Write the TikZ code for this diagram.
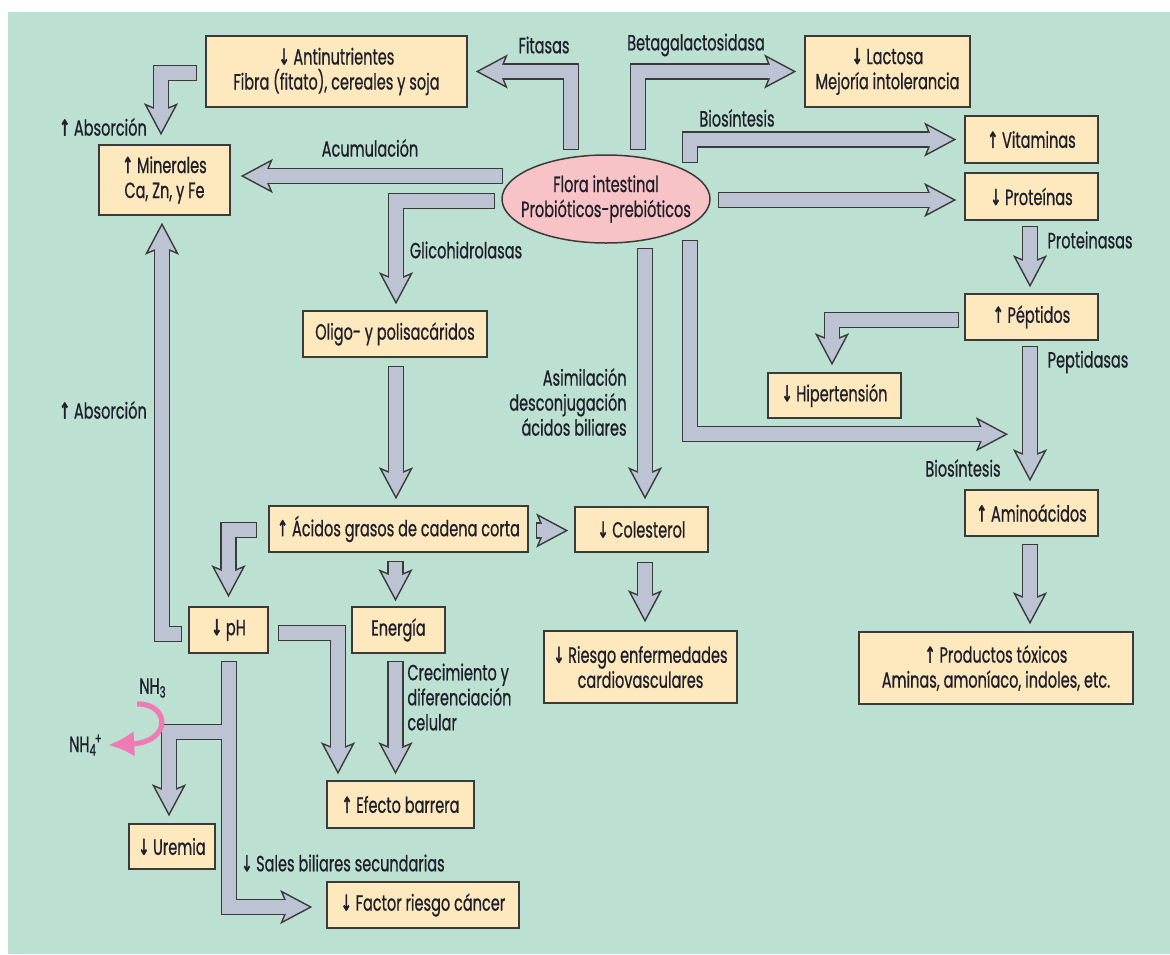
\documentclass[tikz,border=0pt]{standalone}
\usepackage{fontspec}
\setmainfont{Poppins}[FakeStretch=0.66, FakeBold=0.7]
\newfontfamily\arrowfont{DejaVu Sans}[FakeStretch=0.6, FakeBold=2]
\usetikzlibrary{positioning, calc, shapes.geometric, arrows.meta}

\definecolor{mint}{HTML}{BCE1D3}
\definecolor{boxfill}{HTML}{FEE9BF}
\definecolor{shaft}{HTML}{BCC4D3}
\definecolor{edge}{HTML}{3A3A3A}
\definecolor{florapink}{HTML}{F8C3C6}
\definecolor{amonio}{HTML}{F07AB4}
\definecolor{ink}{HTML}{1F1F2A}

\newcommand{\subir}{{\arrowfont ↑}}
\newcommand{\bajar}{{\arrowfont ↓}}

\tikzset{
  box/.style n args={2}{draw=edge, fill=boxfill, line width=0.75pt, text=ink, align=center,
    minimum width=#1*0.5pt, minimum height=#2*0.5pt, inner sep=1pt},
  lbl/.style={text=ink, inner sep=0pt, align=center},
  tipline/.style={draw=edge, line width=0.7pt, -{Stealth[length=16pt, width=17pt, inset=3.5pt, fill=shaft]}},
  shaftout/.style={draw=edge, line width=8.2pt, shorten >=14pt},
  shaftin/.style={draw=shaft, line width=6.8pt, shorten <=0.7pt},
}
\newcommand{\fatarrow}[1]{%
  \draw[tipline] #1;
  \draw[shaftout] #1;
  \draw[shaftin, shorten >=11.5pt] #1;
}

\begin{document}
\begin{tikzpicture}[x=0.5pt, y=-0.5pt, every node/.append style={font=\fontsize{11}{12.5}\selectfont}]
\useasboundingbox (0,0) rectangle (1170,954);
\fill[white] (0,0) rectangle (1170,954);
\fill[mint] (8,12) rectangle (1170,954);

% boxes
\node[box={261}{71}] (anti) at (336.5,71.5) {\bajar\,Antinutrientes\\Fibra (fitato), cereales y soja};
\node[box={131}{70}] (mine) at (164.5,180) {\subir\,Minerales\\Ca, Zn, y Fe};
\node[box={165}{71}] (lact) at (887.5,71.5) {\bajar\,Lactosa\\Mejoría intolerancia};
\node[box={133}{47}] (vita) at (1031.5,139.5) {\subir\,Vitaminas};
\node[box={133}{47}] (prot) at (1031.5,196.5) {\bajar\,Proteínas};
\node[draw=edge, fill=florapink, ellipse, line width=0.75pt, minimum width=104pt, minimum height=44pt,
  align=center, text=ink, inner xsep=-20pt, inner ysep=-8pt] (flora) at (606,199) {Flora intestinal\\Probióticos-prebióticos};
\node[box={184}{46}] (oligo) at (395,334) {Oligo- y polisacáridos};
\node[box={259}{46}] (acid) at (398.5,529) {\subir\ Ácidos grasos de cadena corta};
\node[box={133}{45}] (cole) at (641.5,529.5) {\bajar\,Colesterol};
\node[box={79}{46}] (ph) at (228.5,630) {\bajar\,pH};
\node[box={93}{46}] (ener) at (398.5,630) {Energía};
\node[box={147}{47}] (efec) at (400.5,804.5) {\subir\,Efecto barrera};
\node[box={86}{45}] (urem) at (172,846.5) {\bajar\,Uremia};
\node[box={192}{46}] (canc) at (423,905) {\bajar\ Factor riesgo cáncer};
\node[box={193}{72}] (ries) at (640.5,667) {\bajar\,Riesgo enfermedades\\cardiovasculares};
\node[box={133}{46}] (pept) at (1031.5,317) {\subir\,Péptidos};
\node[box={133}{45}] (hipe) at (834.5,395.5) {\bajar\,Hipertensión};
\node[box={133}{46}] (amin) at (1031.5,513) {\subir\,Aminoácidos};
\node[box={274}{72}] (toxi) at (996,668) {\subir\ Productos tóxicos\\Aminas, amoníaco, indoles, etc.};

% labels
\node[lbl] (fitL) at (544,45) {Fitasas};
\node[lbl] (betL) at (696,45) {Betagalactosidasa};
\node[lbl] (bioL) at (737,118) {Biosíntesis};
\node[lbl] (acuL) at (370,148) {Acumulación};
\node[lbl] (absL) at (103,127) {\subir\,Absorción};
\node[lbl] (absM) at (103,410) {\subir\,Absorción};
\node[lbl] (gliL) at (466,250) {Glicohidrolasas};
\node[lbl, align=right, anchor=east] (asiL) at (627,402) {Asimilación\\desconjugación\\ácidos biliares};
\node[lbl, align=left, anchor=west] (creL) at (407,697) {Crecimiento y\\diferenciación\\celular};
\node[lbl, anchor=west] (salL) at (241,863) {\bajar\,Sales biliares secundarias};
\node[lbl] (proL) at (1090,240) {Proteinasas};
\node[lbl] (pepL) at (1088,362) {Peptidasas};
\node[lbl] (bi2L) at (963,468) {Biosíntesis};
\node[lbl] (nh3) at (153,688) {NH\textsubscript{3}};
\node[lbl] (nh4) at (86,745) {NH\textsubscript{4}\kern-1pt\textsuperscript{+}};

% start points
\coordinate (fitS) at (571,150);
\coordinate (betS) at (638,150);
\coordinate (vitS) at (690,163);
\coordinate (acuS) at (503,176);
\coordinate (gliS) at (495,201);
\coordinate (colS) at (645,248);
\coordinate (bioS) at (690,240);
\coordinate (phB) at (229,732);

% big arrows
\fatarrow{(fitS) |- ($(anti.east)+(8,0)$)}
\fatarrow{(betS) |- ($(lact.west)+(-8,0)$)}
\fatarrow{(vitS) |- ($(vita.west)+(-8,0)$)}
\fatarrow{($(flora.east)+(7,1)$) -- ($(flora.east -| prot.west)+(-8,1)$)}
\fatarrow{(acuS) -- ($(acuS -| mine.east)+(10,0)$)}
\fatarrow{(gliS) -| ($(oligo.north)+(1,-6)$)}
\fatarrow{($(anti.west)+(-8,1.5)$) -| ($(mine.north)+(-3.5,-9)$)}
\fatarrow{($(ph.west)+(-6,4)$) -| ($(mine.south)+(-2.5,7)$)}
\fatarrow{($(oligo.south)+(1,8)$) -- ($(oligo.south |- acid.north)+(1,-6)$)}
\fatarrow{($(acid.east)+(7,1.5)$) -- ($(cole.west)+(-6,1)$)}
\fatarrow{($(acid.west)+(-11,1)$) -| ($(ph.north)+(0,-9)$)}
\fatarrow{($(acid.south)+(-3,8)$) -- ($(ener.north)+(-3,-5)$)}
\fatarrow{($(ph.east)+(9,3)$) -| ($(efec.north)+(-62.5,-6)$)}
\fatarrow{($(ener.south)+(-3,7)$) -- ($(ener.south |- efec.north)+(-3,-6)$)}
\fatarrow{($(ph.south)+(0.5,7)$) |- ($(canc.west)+(-14,2)$)}
\fatarrow{(phB) -| ($(urem.north)+(-3,-7)$)}
\draw[shaftin] ($(ph.south)+(0.5,7)$) -- ($(ph.south)+(0.5,120)$);
\draw[shaftin, shorten >=11.5pt] (phB) -| ($(urem.north)+(-3,-7)$);
\fatarrow{($(cole.south)+(3.5,9)$) -- ($(cole.south |- ries.north)+(3.5,-8)$)}
\fatarrow{(colS) -- ($(colS |- cole.north)+(0,-7)$)}
\fatarrow{(bioS) |- ($(amin.north)+(-23.5,-55)$)}
\fatarrow{($(prot.south)+(-1.5,5)$) -- ($(pept.north)+(-1.5,-6)$)}
\fatarrow{($(pept.south)+(-1.5,5)$) -- ($(amin.north)+(-1.5,-8)$)}
\fatarrow{($(pept.west)+(-5,3)$) -| ($(hipe.north)+(-2.5,-7)$)}
\fatarrow{($(amin.south)+(-1.5,7)$) -- ($(amin.south |- toxi.north)+(-1.5,-7)$)}

% ammonia
\draw[amonio, line width=2.6pt, -{Latex[length=13pt, width=13pt]}]
  ($(nh3.south)+(-16,6)$) .. controls (170,703) and (172,742) .. ($(nh4.east)+(5,0)$);
\end{tikzpicture}
\end{document}
